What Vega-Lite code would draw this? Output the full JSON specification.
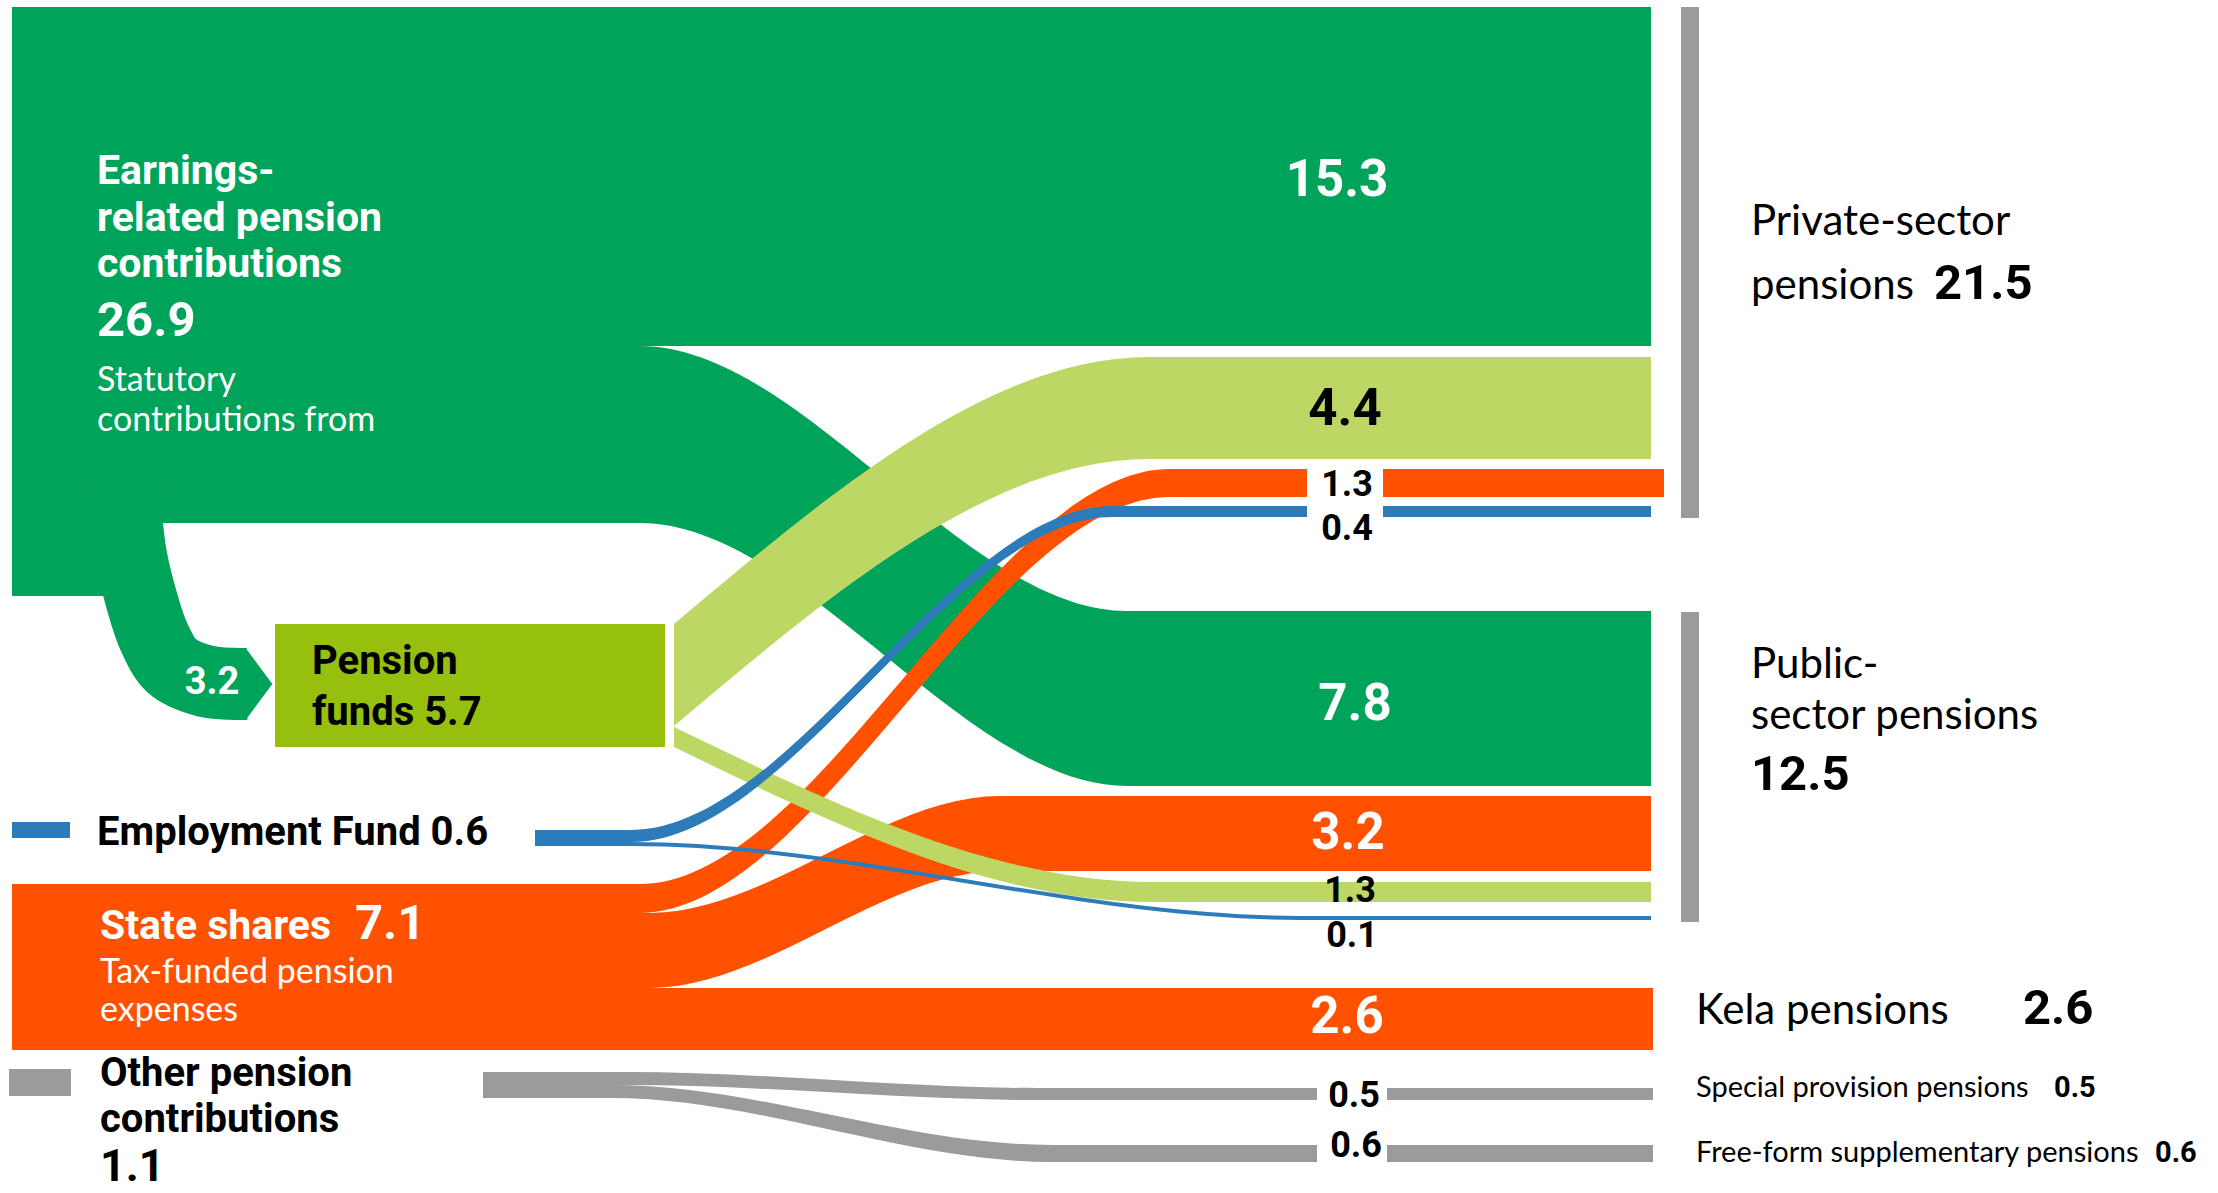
{
  "$schema": "https://vega.github.io/schema/vega-lite/v6.json",
  "width": 2218,
  "height": 1193,
  "padding": 0,
  "autosize": "none",
  "background": "white",
  "config": {"view": {"stroke": null}},
  "datasets": {
    "flows": [
      {"id": "F1", "src": "Earnings-related", "value": 15.3, "x": 12, "top": 7, "bottom": 346},
      {"id": "F1", "src": "Earnings-related", "value": 15.3, "x": 1651, "top": 7, "bottom": 346},
      {"id": "F2", "src": "Earnings-related", "value": 7.8, "x": 12, "top": 346, "bottom": 523},
      {"id": "F2", "src": "Earnings-related", "value": 7.8, "x": 640, "top": 346, "bottom": 523},
      {"id": "F2", "src": "Earnings-related", "value": 7.8, "x": 1127, "top": 611, "bottom": 786},
      {"id": "F2", "src": "Earnings-related", "value": 7.8, "x": 1651, "top": 611, "bottom": 786},
      {"id": "F3", "src": "Pension funds", "value": 4.4, "x": 674, "top": 624, "bottom": 726},
      {"id": "F3", "src": "Pension funds", "value": 4.4, "x": 1149, "top": 357, "bottom": 459},
      {"id": "F3", "src": "Pension funds", "value": 4.4, "x": 1651, "top": 357, "bottom": 459},
      {"id": "F4", "src": "State shares", "value": 1.3, "x": 12, "top": 884, "bottom": 913},
      {"id": "F4", "src": "State shares", "value": 1.3, "x": 640, "top": 884, "bottom": 913},
      {"id": "F4", "src": "State shares", "value": 1.3, "x": 1170, "top": 469, "bottom": 497},
      {"id": "F4", "src": "State shares", "value": 1.3, "x": 1664, "top": 469, "bottom": 497},
      {"id": "F5", "src": "State shares", "value": 3.2, "x": 12, "top": 913, "bottom": 988},
      {"id": "F5", "src": "State shares", "value": 3.2, "x": 650, "top": 913, "bottom": 988},
      {"id": "F5", "src": "State shares", "value": 3.2, "x": 1000, "top": 796, "bottom": 871},
      {"id": "F5", "src": "State shares", "value": 3.2, "x": 1651, "top": 796, "bottom": 871},
      {"id": "F6", "src": "State shares", "value": 2.6, "x": 12, "top": 988, "bottom": 1050},
      {"id": "F6", "src": "State shares", "value": 2.6, "x": 1653, "top": 988, "bottom": 1050},
      {"id": "F7", "src": "Pension funds", "value": 1.3, "x": 674, "top": 727, "bottom": 747},
      {"id": "F7", "src": "Pension funds", "value": 1.3, "x": 1153, "top": 882, "bottom": 902},
      {"id": "F7", "src": "Pension funds", "value": 1.3, "x": 1651, "top": 882, "bottom": 902},
      {"id": "F8", "src": "Employment Fund", "value": 0.4, "x": 535, "top": 830, "bottom": 842},
      {"id": "F8", "src": "Employment Fund", "value": 0.4, "x": 631, "top": 830, "bottom": 842},
      {"id": "F8", "src": "Employment Fund", "value": 0.4, "x": 1113, "top": 506, "bottom": 517},
      {"id": "F8", "src": "Employment Fund", "value": 0.4, "x": 1651, "top": 506, "bottom": 517},
      {"id": "F9", "src": "Employment Fund", "value": 0.1, "x": 535, "top": 842, "bottom": 846},
      {"id": "F9", "src": "Employment Fund", "value": 0.1, "x": 631, "top": 842, "bottom": 846},
      {"id": "F9", "src": "Employment Fund", "value": 0.1, "x": 1300, "top": 916, "bottom": 920},
      {"id": "F9", "src": "Employment Fund", "value": 0.1, "x": 1651, "top": 916, "bottom": 920},
      {"id": "F10", "src": "Other", "value": 0.5, "x": 483, "top": 1072, "bottom": 1085},
      {"id": "F10", "src": "Other", "value": 0.5, "x": 626, "top": 1072, "bottom": 1085},
      {"id": "F10", "src": "Other", "value": 0.5, "x": 1038, "top": 1088, "bottom": 1100},
      {"id": "F10", "src": "Other", "value": 0.5, "x": 1653, "top": 1088, "bottom": 1100},
      {"id": "F11", "src": "Other", "value": 0.6, "x": 483, "top": 1085, "bottom": 1098},
      {"id": "F11", "src": "Other", "value": 0.6, "x": 611, "top": 1085, "bottom": 1098},
      {"id": "F11", "src": "Other", "value": 0.6, "x": 1052, "top": 1145, "bottom": 1162},
      {"id": "F11", "src": "Other", "value": 0.6, "x": 1653, "top": 1145, "bottom": 1162}
    ],
    "boxes": [
      {"item": "earnings node", "src": "Earnings-related", "x0": 12, "x1": 640, "y0": 7, "y1": 523},
      {"item": "earnings foot", "src": "Earnings-related", "x0": 12, "x1": 110, "y0": 520, "y1": 596},
      {"item": "state node", "src": "State shares", "x0": 12, "x1": 640, "y0": 884, "y1": 1050},
      {"item": "employment bar", "src": "Employment Fund", "x0": 535, "x1": 631, "y0": 830, "y1": 846},
      {"item": "other bar", "src": "Other", "x0": 483, "x1": 611, "y0": 1072, "y1": 1098},
      {"item": "pension funds node", "src": "Pension funds node", "x0": 275, "x1": 665, "y0": 624, "y1": 747},
      {"item": "employment swatch", "src": "Employment Fund", "x0": 12, "x1": 70, "y0": 822, "y1": 838},
      {"item": "other swatch", "src": "Other", "x0": 9, "x1": 71, "y0": 1069, "y1": 1096},
      {"item": "private bracket", "src": "bracket", "x0": 1681, "x1": 1699, "y0": 7, "y1": 518},
      {"item": "public bracket", "src": "bracket", "x0": 1681, "x1": 1699, "y0": 612, "y1": 922}
    ],
    "gaps": [
      {"item": "gap private small", "src": "gap", "x0": 1307, "x1": 1383, "y0": 464, "y1": 521},
      {"item": "gap special", "src": "gap", "x0": 1317, "x1": 1387, "y0": 1084, "y1": 1104},
      {"item": "gap freeform", "src": "gap", "x0": 1317, "x1": 1387, "y0": 1140, "y1": 1167}
    ],
    "arrowpath": [
      {"i": 1, "src": "Earnings-related", "x": 124, "y": 480},
      {"i": 2, "src": "Earnings-related", "x": 130, "y": 550},
      {"i": 3, "src": "Earnings-related", "x": 141, "y": 598},
      {"i": 4, "src": "Earnings-related", "x": 154, "y": 637},
      {"i": 5, "src": "Earnings-related", "x": 172, "y": 666},
      {"i": 6, "src": "Earnings-related", "x": 205, "y": 681},
      {"i": 7, "src": "Earnings-related", "x": 247, "y": 684}
    ],
    "arrowhead": [
      {"src": "Earnings-related", "x": 259, "y": 684}
    ],
    "labels": [
      {"role": "src-title-light", "text": "Earnings-", "x": 97, "y": 184},
      {"role": "src-title-light", "text": "related pension", "x": 97, "y": 231},
      {"role": "src-title-light", "text": "contributions", "x": 97, "y": 277},
      {"role": "src-title-light", "text": "State shares", "x": 100, "y": 939},
      {"role": "src-value-light", "text": "26.9", "x": 97, "y": 336},
      {"role": "src-value-light", "text": "7.1", "x": 355, "y": 939},
      {"role": "src-note", "text": "Statutory", "x": 97, "y": 391},
      {"role": "src-note", "text": "contributions from", "x": 97, "y": 431},
      {"role": "src-note", "text": "Tax-funded pension", "x": 100, "y": 983},
      {"role": "src-note", "text": "expenses", "x": 100, "y": 1021},
      {"role": "src-title-dark", "text": "Pension", "x": 312, "y": 674},
      {"role": "src-title-dark", "text": "funds 5.7", "x": 312, "y": 725},
      {"role": "src-title-dark", "text": "Employment Fund 0.6", "x": 97, "y": 845},
      {"role": "src-title-dark", "text": "Other pension", "x": 100, "y": 1086},
      {"role": "src-title-dark", "text": "contributions", "x": 100, "y": 1132},
      {"role": "src-value-dark", "text": "1.1", "x": 100, "y": 1181},
      {"role": "arrow", "text": "3.2", "x": 212, "y": 694},
      {"role": "flow-big-light", "text": "15.3", "x": 1337, "y": 196},
      {"role": "flow-big-light", "text": "7.8", "x": 1355, "y": 720},
      {"role": "flow-big-light", "text": "3.2", "x": 1348, "y": 849},
      {"role": "flow-big-light", "text": "2.6", "x": 1347, "y": 1033},
      {"role": "flow-big-dark", "text": "4.4", "x": 1345, "y": 425},
      {"role": "flow-small", "text": "1.3", "x": 1347, "y": 496},
      {"role": "flow-small", "text": "0.4", "x": 1347, "y": 540},
      {"role": "flow-small", "text": "1.3", "x": 1350, "y": 902},
      {"role": "flow-small", "text": "0.1", "x": 1352, "y": 947},
      {"role": "flow-small", "text": "0.5", "x": 1354, "y": 1107},
      {"role": "flow-small", "text": "0.6", "x": 1356, "y": 1157},
      {"role": "tgt", "text": "Private-sector", "x": 1751, "y": 235},
      {"role": "tgt", "text": "pensions", "x": 1751, "y": 299},
      {"role": "tgt", "text": "Public-", "x": 1751, "y": 678},
      {"role": "tgt", "text": "sector pensions", "x": 1751, "y": 729},
      {"role": "tgt", "text": "Kela pensions", "x": 1696, "y": 1024},
      {"role": "tgt-value", "text": "21.5", "x": 1934, "y": 299},
      {"role": "tgt-value", "text": "12.5", "x": 1751, "y": 790},
      {"role": "tgt-value", "text": "2.6", "x": 2023, "y": 1024},
      {"role": "tgt-small", "text": "Special provision pensions", "x": 1696, "y": 1097},
      {"role": "tgt-small", "text": "Free-form supplementary pensions", "x": 1696, "y": 1162},
      {"role": "tgt-small-value", "text": "0.5", "x": 2054, "y": 1097},
      {"role": "tgt-small-value", "text": "0.6", "x": 2155, "y": 1162}
    ]
  },
  "layer": [
    {
      "data": {"name": "boxes"},
      "mark": {"type": "rect"},
      "encoding": {
        "x": {"field": "x0", "type": "quantitative", "scale": {"domain": [0, 2218], "nice": false, "zero": false}, "axis": null},
        "x2": {"field": "x1"},
        "y": {"field": "y0", "type": "quantitative", "scale": {"domain": [0, 1193], "nice": false, "zero": false, "reverse": true}, "axis": null},
        "y2": {"field": "y1"},
        "color": {"field": "src", "type": "nominal", "legend": null, "scale": {"domain": ["Earnings-related", "Pension funds node", "Pension funds", "Employment Fund", "State shares", "Other", "bracket", "gap"], "range": ["#00a35a", "#97bf0d", "#bdd765", "#2e7bba", "#ff5100", "#9b9b9b", "#9b9b9b", "#ffffff"]}}
      }
    },
    {
      "data": {"name": "flows"},
      "transform": [{"filter": "datum.id === 'F1' || datum.id === 'F2'"}],
      "mark": {"type": "area", "orient": "vertical", "interpolate": "monotone"},
      "encoding": {
        "x": {"field": "x", "type": "quantitative", "axis": null},
        "y": {"field": "top", "type": "quantitative", "stack": null, "axis": null},
        "y2": {"field": "bottom"},
        "detail": {"field": "id", "type": "nominal"},
        "color": {"field": "src", "type": "nominal", "legend": null}
      }
    },
    {
      "data": {"name": "arrowpath"},
      "mark": {"type": "line", "interpolate": "catmull-rom", "strokeWidth": 72, "strokeCap": "butt"},
      "encoding": {
        "x": {"field": "x", "type": "quantitative", "axis": null},
        "y": {"field": "y", "type": "quantitative", "axis": null},
        "order": {"field": "i", "type": "quantitative"},
        "color": {"field": "src", "type": "nominal", "legend": null}
      }
    },
    {
      "data": {"name": "arrowhead"},
      "mark": {"type": "point", "shape": "M -0.37 -1 L 0.37 0 L -0.37 1 Z", "filled": true, "size": 5184, "opacity": 1, "strokeWidth": 0},
      "encoding": {
        "x": {"field": "x", "type": "quantitative", "axis": null},
        "y": {"field": "y", "type": "quantitative", "axis": null},
        "color": {"field": "src", "type": "nominal", "legend": null}
      }
    },
    {
      "data": {"name": "flows"},
      "transform": [{"filter": "datum.id === 'F3'"}],
      "mark": {"type": "area", "orient": "vertical", "interpolate": "monotone"},
      "encoding": {
        "x": {"field": "x", "type": "quantitative", "axis": null},
        "y": {"field": "top", "type": "quantitative", "stack": null, "axis": null},
        "y2": {"field": "bottom"},
        "detail": {"field": "id", "type": "nominal"},
        "color": {"field": "src", "type": "nominal", "legend": null}
      }
    },
    {
      "data": {"name": "flows"},
      "transform": [{"filter": "datum.id === 'F4' || datum.id === 'F5' || datum.id === 'F6'"}],
      "mark": {"type": "area", "orient": "vertical", "interpolate": "monotone"},
      "encoding": {
        "x": {"field": "x", "type": "quantitative", "axis": null},
        "y": {"field": "top", "type": "quantitative", "stack": null, "axis": null},
        "y2": {"field": "bottom"},
        "detail": {"field": "id", "type": "nominal"},
        "color": {"field": "src", "type": "nominal", "legend": null}
      }
    },
    {
      "data": {"name": "flows"},
      "transform": [{"filter": "datum.id === 'F7'"}],
      "mark": {"type": "area", "orient": "vertical", "interpolate": "monotone"},
      "encoding": {
        "x": {"field": "x", "type": "quantitative", "axis": null},
        "y": {"field": "top", "type": "quantitative", "stack": null, "axis": null},
        "y2": {"field": "bottom"},
        "detail": {"field": "id", "type": "nominal"},
        "color": {"field": "src", "type": "nominal", "legend": null}
      }
    },
    {
      "data": {"name": "flows"},
      "transform": [{"filter": "datum.id === 'F8' || datum.id === 'F9' || datum.id === 'F10' || datum.id === 'F11'"}],
      "mark": {"type": "area", "orient": "vertical", "interpolate": "monotone"},
      "encoding": {
        "x": {"field": "x", "type": "quantitative", "axis": null},
        "y": {"field": "top", "type": "quantitative", "stack": null, "axis": null},
        "y2": {"field": "bottom"},
        "detail": {"field": "id", "type": "nominal"},
        "color": {"field": "src", "type": "nominal", "legend": null}
      }
    },
    {
      "data": {"name": "gaps"},
      "mark": {"type": "rect"},
      "encoding": {
        "x": {"field": "x0", "type": "quantitative", "axis": null},
        "x2": {"field": "x1"},
        "y": {"field": "y0", "type": "quantitative", "axis": null},
        "y2": {"field": "y1"},
        "color": {"field": "src", "type": "nominal", "legend": null}
      }
    },
    {
      "data": {"name": "labels"},
      "transform": [{"filter": "datum.role === 'src-title-light'"}],
      "mark": {"type": "text", "font": "Roboto", "fontWeight": "bold", "fontSize": 41, "align": "left", "baseline": "alphabetic", "color": "#ffffff"},
      "encoding": {"x": {"field": "x", "type": "quantitative", "axis": null}, "y": {"field": "y", "type": "quantitative", "axis": null}, "text": {"field": "text"}}
    },
    {
      "data": {"name": "labels"},
      "transform": [{"filter": "datum.role === 'src-value-light'"}],
      "mark": {"type": "text", "font": "Roboto", "fontWeight": "bold", "fontSize": 49, "align": "left", "baseline": "alphabetic", "color": "#ffffff"},
      "encoding": {"x": {"field": "x", "type": "quantitative", "axis": null}, "y": {"field": "y", "type": "quantitative", "axis": null}, "text": {"field": "text"}}
    },
    {
      "data": {"name": "labels"},
      "transform": [{"filter": "datum.role === 'src-note'"}],
      "mark": {"type": "text", "font": "Lato", "fontSize": 34, "align": "left", "baseline": "alphabetic", "color": "#ffffff"},
      "encoding": {"x": {"field": "x", "type": "quantitative", "axis": null}, "y": {"field": "y", "type": "quantitative", "axis": null}, "text": {"field": "text"}}
    },
    {
      "data": {"name": "labels"},
      "transform": [{"filter": "datum.role === 'src-title-dark'"}],
      "mark": {"type": "text", "font": "Roboto", "fontWeight": "bold", "fontSize": 40, "align": "left", "baseline": "alphabetic", "color": "#000000"},
      "encoding": {"x": {"field": "x", "type": "quantitative", "axis": null}, "y": {"field": "y", "type": "quantitative", "axis": null}, "text": {"field": "text"}}
    },
    {
      "data": {"name": "labels"},
      "transform": [{"filter": "datum.role === 'src-value-dark'"}],
      "mark": {"type": "text", "font": "Roboto", "fontWeight": "bold", "fontSize": 45, "align": "left", "baseline": "alphabetic", "color": "#000000"},
      "encoding": {"x": {"field": "x", "type": "quantitative", "axis": null}, "y": {"field": "y", "type": "quantitative", "axis": null}, "text": {"field": "text"}}
    },
    {
      "data": {"name": "labels"},
      "transform": [{"filter": "datum.role === 'arrow'"}],
      "mark": {"type": "text", "font": "Roboto", "fontWeight": "bold", "fontSize": 38, "align": "center", "baseline": "alphabetic", "color": "#ffffff"},
      "encoding": {"x": {"field": "x", "type": "quantitative", "axis": null}, "y": {"field": "y", "type": "quantitative", "axis": null}, "text": {"field": "text"}}
    },
    {
      "data": {"name": "labels"},
      "transform": [{"filter": "datum.role === 'flow-big-light'"}],
      "mark": {"type": "text", "font": "Roboto", "fontWeight": "bold", "fontSize": 51, "align": "center", "baseline": "alphabetic", "color": "#ffffff"},
      "encoding": {"x": {"field": "x", "type": "quantitative", "axis": null}, "y": {"field": "y", "type": "quantitative", "axis": null}, "text": {"field": "text"}}
    },
    {
      "data": {"name": "labels"},
      "transform": [{"filter": "datum.role === 'flow-big-dark'"}],
      "mark": {"type": "text", "font": "Roboto", "fontWeight": "bold", "fontSize": 51, "align": "center", "baseline": "alphabetic", "color": "#000000"},
      "encoding": {"x": {"field": "x", "type": "quantitative", "axis": null}, "y": {"field": "y", "type": "quantitative", "axis": null}, "text": {"field": "text"}}
    },
    {
      "data": {"name": "labels"},
      "transform": [{"filter": "datum.role === 'flow-small'"}],
      "mark": {"type": "text", "font": "Roboto", "fontWeight": "bold", "fontSize": 36, "align": "center", "baseline": "alphabetic", "color": "#000000"},
      "encoding": {"x": {"field": "x", "type": "quantitative", "axis": null}, "y": {"field": "y", "type": "quantitative", "axis": null}, "text": {"field": "text"}}
    },
    {
      "data": {"name": "labels"},
      "transform": [{"filter": "datum.role === 'tgt'"}],
      "mark": {"type": "text", "font": "Lato", "fontSize": 42, "align": "left", "baseline": "alphabetic", "color": "#000000"},
      "encoding": {"x": {"field": "x", "type": "quantitative", "axis": null}, "y": {"field": "y", "type": "quantitative", "axis": null}, "text": {"field": "text"}}
    },
    {
      "data": {"name": "labels"},
      "transform": [{"filter": "datum.role === 'tgt-value'"}],
      "mark": {"type": "text", "font": "Roboto", "fontWeight": "bold", "fontSize": 49, "align": "left", "baseline": "alphabetic", "color": "#000000"},
      "encoding": {"x": {"field": "x", "type": "quantitative", "axis": null}, "y": {"field": "y", "type": "quantitative", "axis": null}, "text": {"field": "text"}}
    },
    {
      "data": {"name": "labels"},
      "transform": [{"filter": "datum.role === 'tgt-small'"}],
      "mark": {"type": "text", "font": "Lato", "fontSize": 29, "align": "left", "baseline": "alphabetic", "color": "#000000"},
      "encoding": {"x": {"field": "x", "type": "quantitative", "axis": null}, "y": {"field": "y", "type": "quantitative", "axis": null}, "text": {"field": "text"}}
    },
    {
      "data": {"name": "labels"},
      "transform": [{"filter": "datum.role === 'tgt-small-value'"}],
      "mark": {"type": "text", "font": "Roboto", "fontWeight": "bold", "fontSize": 29, "align": "left", "baseline": "alphabetic", "color": "#000000"},
      "encoding": {"x": {"field": "x", "type": "quantitative", "axis": null}, "y": {"field": "y", "type": "quantitative", "axis": null}, "text": {"field": "text"}}
    }
  ]
}
